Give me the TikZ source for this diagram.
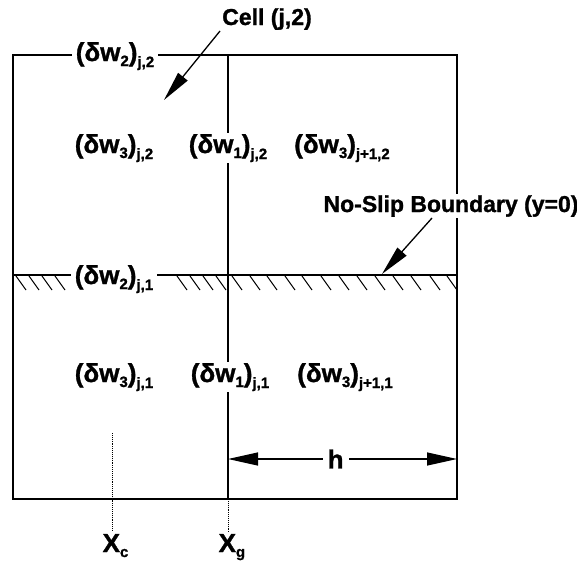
\documentclass[tikz,border=0pt]{standalone}
\usepackage{fontspec}
\setmainfont{Liberation Sans}
\newfontfamily\heavy{Liberation Sans Bold}[FakeBold=1.2]
\usetikzlibrary{arrows.meta}
\newcommand{\subf}{\fontsize{15}{17}\selectfont}
\newcommand{\dwx}[2]{(δw\raisebox{-5pt}{\subf #1})\raisebox{-6pt}{\subf #2}}
\newcommand{\xsub}[1]{X\raisebox{-5pt}{\subf #1}}
\begin{document}
\begin{tikzpicture}[x=1pt,y=-1pt,line width=1.3pt,
  font=\fontsize{26}{30}\selectfont\heavy,
  lab/.style={fill=white,inner xsep=4pt,inner ysep=1pt,anchor=base},
  note/.style={font=\fontsize{23}{26}\selectfont\heavy,fill=white,inner sep=1pt,anchor=base},
  hatchline/.style={line width=1pt},
  guide/.style={densely dotted,line width=0.9pt},
  pointer/.style={-{Triangle[length=30pt,width=12pt]},line width=1.3pt},
  dim/.style={{Triangle[length=30pt,width=13pt]}-{Triangle[length=30pt,width=13pt]},line width=1.3pt}]
\useasboundingbox (0,0) rectangle (577,565);
% grid lines
\coordinate (tl) at (13,55);
\coordinate (br) at (457,499);
\coordinate (mt) at (228,55);
\coordinate (mb) at (228,499);
\coordinate (wl) at (13,275);
\coordinate (wr) at (457,275);
\draw (tl) rectangle (br);
\draw (mt) -- (mb);
\draw (wl) -- (wr);
% hatching below the wall
\foreach \hx in {16,29,42,55,177,190,203,216,232,250,267,285,302,321,339,357,375,393,411,430,447}
  \draw[hatchline] (\hx,276) -- ++(10,14);
% labels
\node[lab] (w2j2) at (115,61) {\dwx{2}{j,2}};
\node[lab] (w2j1) at (114,284) {\dwx{2}{j,1}};
\node[lab] (w3j2) at (114,153) {\dwx{3}{j,2}};
\node[lab] (w1j2) at (228,153) {\dwx{1}{j,2}};
\node[lab] (w3jp2) at (342,153) {\dwx{3}{j+1,2}};
\node[lab] (w3j1) at (114,382) {\dwx{3}{j,1}};
\node[lab] (w1j1) at (230,382) {\dwx{1}{j,1}};
\node[lab] (w3jp1) at (345,382) {\dwx{3}{j+1,1}};
% cell pointer
\node[note] (cell) at (267,25) {Cell (j,2)};
\coordinate (cellfrom) at (220,31);
\coordinate (cellto) at (164,100);
\draw[pointer] (cellfrom) -- (cellto);
% no-slip pointer
\node[note] (noslip) at (451,212) {No-Slip Boundary (y=0)};
\coordinate (nsfrom) at (432,218);
\coordinate (nsto) at (382,274);
\draw[pointer] (nsfrom) -- (nsto);
% dimension h
\coordinate (hl) at (228,459);
\coordinate (hr) at (457,459);
\draw[dim] (hl) -- node[pos=0.47,fill=white,inner xsep=5pt,inner ysep=1pt] (h) {h} (hr);
% x positions
\coordinate (xctop) at (112,433);
\coordinate (xcbot) at (112,530);
\coordinate (xgtop) at (228,499);
\coordinate (xgbot) at (228,532);
\draw[guide] (xctop) -- (xcbot);
\draw[guide] (xgtop) -- (xgbot);
\node[anchor=base west,inner sep=0pt] (xc) at (102,552) {\xsub{c}};
\node[anchor=base west,inner sep=0pt] (xg) at (218,552) {\xsub{g}};
\end{tikzpicture}
\end{document}
